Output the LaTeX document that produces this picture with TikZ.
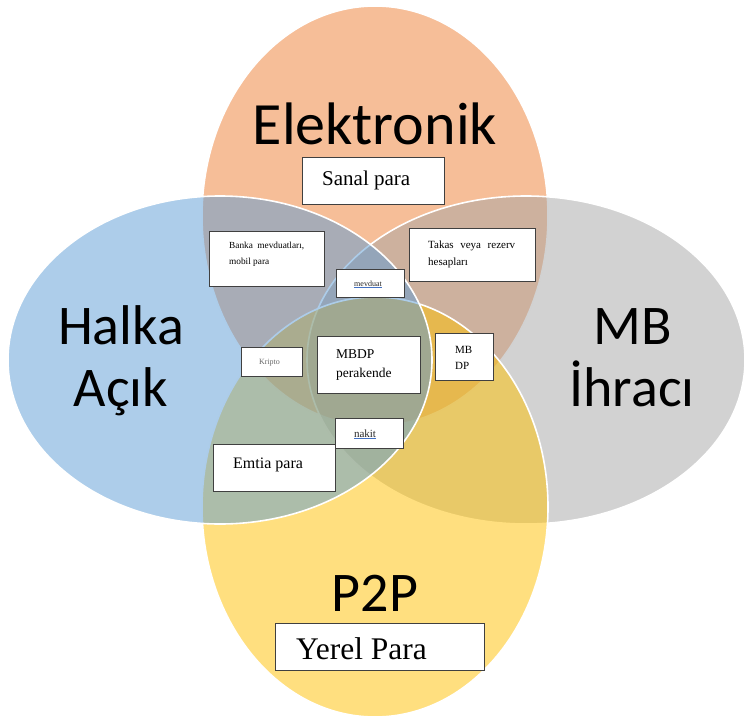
\documentclass[tikz,border=0pt]{standalone}
\usepackage{fontspec}
\setmainfont{Liberation Serif}
\newfontfamily\labelfont{Carlito}

\definecolor{vorange}{HTML}{ED7D31}
\definecolor{vgray}{HTML}{A5A5A5}
\definecolor{vyellow}{HTML}{FFC000}
\definecolor{vblue}{HTML}{5B9BD5}
\definecolor{linkblue}{HTML}{4472C4}

\newcommand{\fs}[1]{\fontsize{#1}{#1}\selectfont}
\newcommand{\linkword}[1]{{\color{linkblue}\underline{\textcolor{black!85}{#1}}}}

\tikzset{
  venn/.style={draw=white, line width=1.6pt, fill opacity=0.5},
  bigtext/.style={font=\labelfont\fs{56}, inner sep=0pt, anchor=base},
  tagbox/.style={draw=black!75, line width=0.8pt, fill=white, inner sep=0pt},
  tagtext/.style={inner sep=0pt, anchor=base west},
}

\begin{document}
\begin{tikzpicture}[x=1pt, y=-1pt]
\useasboundingbox (0,0) rectangle (746,719);

% the four overlapping sets
\begin{scope}
  \clip (0,0) rectangle (746,719);
  \draw[venn, fill=vorange] (375,216) ellipse [x radius=173, y radius=210];
  \draw[venn, fill=vgray]   (526,360) ellipse [x radius=219, y radius=164];
  \draw[venn, fill=vyellow] (375,507) ellipse [x radius=173, y radius=210];
  \draw[venn, fill=vblue]   (220,360) ellipse [x radius=212, y radius=164];
\end{scope}

% set titles
\node[bigtext, font=\labelfont\fs{60}] (elektronik) at (375,145) {Elektronik};
\node[bigtext] (halka) at (121,344) {Halka};
\node[bigtext] (acik)  at (121,406) {Açık};
\node[bigtext] (mb)    at (633,344) {MB};
\node[bigtext] (ihraci) at (632,406) {İhracı};
\node[bigtext] (ptp)   at (375,611) {P2P};

% label boxes
\node[tagbox, minimum width=142, minimum height=47] (sanalbox)  at (373,180.5) {};
\node[tagbox, minimum width=209, minimum height=47] (yerelbox)  at (379.5,646.5) {};
\node[tagbox, minimum width=115, minimum height=55] (bankabox)  at (266.5,258.5) {};
\node[tagbox, minimum width=126, minimum height=53] (takasbox)  at (472,254.5) {};
\node[tagbox, minimum width=68,  minimum height=28] (mevduatbox) at (370,283) {};
\node[tagbox, minimum width=61,  minimum height=29] (kriptobox) at (271.5,361.5) {};
\node[tagbox, minimum width=103, minimum height=57] (mbdpbox)   at (368.5,364.5) {};
\node[tagbox, minimum width=58,  minimum height=47] (mbdpsmall) at (464,356.5) {};
\node[tagbox, minimum width=122, minimum height=47] (emtiabox)  at (274,467.5) {};
\node[tagbox, minimum width=68,  minimum height=30] (nakitbox)  at (369,433) {};

% box texts
\node[tagtext, font=\fs{21}] (sanal) at (322,186) {Sanal para};
\node[tagtext, font=\fs{31.5}] (yerel) at (296,659) {Yerel Para};
\node[tagtext, font=\fs{9.3}] (banka1) at (229,248) {\hbox to 75pt{Banka\hfill mevduatları,}};
\node[tagtext, font=\fs{9.3}] (banka2) at (229,264) {mobil para};
\node[tagtext, font=\fs{11}] (takas1) at (428,248) {\hbox to 87pt{Takas\hfill veya\hfill rezerv}};
\node[tagtext, font=\fs{11}] (takas2) at (428,265) {hesapları};
\node[inner sep=0pt, anchor=base, font=\fs{8}] (mevduat) at (368,286) {\linkword{mevduat}};
\node[inner sep=0pt, anchor=base, font=\fs{8}, text=black!60] (kripto) at (269.5,364) {Kripto};
\node[tagtext, font=\fs{13.5}] (mbdp1) at (336,358) {MBDP};
\node[tagtext, font=\fs{13.5}] (mbdp2) at (336,377) {perakende};
\node[tagtext, font=\fs{11}] (mbdps1) at (455,353) {MB};
\node[tagtext, font=\fs{11}] (mbdps2) at (455,369) {DP};
\node[inner sep=0pt, anchor=base, font=\fs{11}] (nakit) at (365,437) {\linkword{nakit}};
\node[tagtext, font=\fs{16}] (emtia) at (233,468) {Emtia para};
\end{tikzpicture}
\end{document}
